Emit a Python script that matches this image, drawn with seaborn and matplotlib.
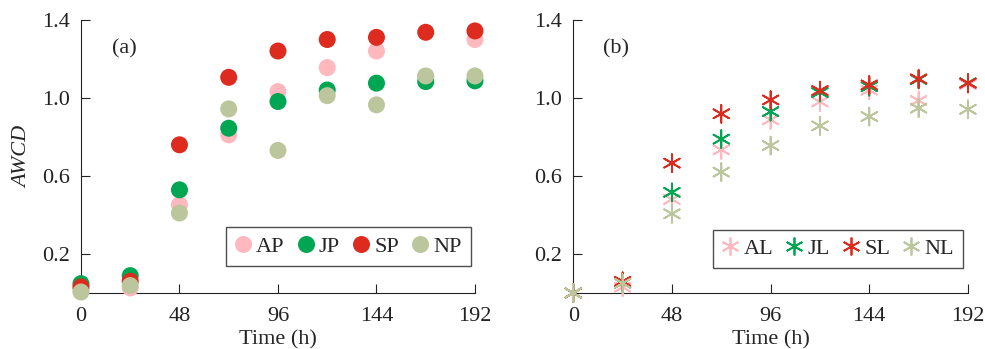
import matplotlib
matplotlib.use('Agg')
import matplotlib.pyplot as plt
import pandas as pd
import seaborn as sns

# Data
time_h = [0, 24, 48, 72, 96, 120, 144, 168, 192]

ap = [0.017, 0.026, 0.452, 0.811, 1.033, 1.156, 1.241, 1.110, 1.300]
jp = [0.048, 0.089, 0.529, 0.845, 0.982, 1.041, 1.076, 1.084, 1.088]
sp = [0.031, 0.060, 0.760, 1.106, 1.241, 1.300, 1.311, 1.337, 1.344]
np_ = [0.005, 0.038, 0.410, 0.944, 0.731, 1.012, 0.965, 1.113, 1.113]

al = [0.000, 0.030, 0.480, 0.734, 0.888, 0.980, 1.040, 0.987, 1.070]
jl = [0.000, 0.050, 0.516, 0.789, 0.930, 1.028, 1.058, 1.095, 1.078]
sl = [0.000, 0.060, 0.666, 0.919, 0.990, 1.038, 1.067, 1.098, 1.076]
nl = [0.000, 0.050, 0.406, 0.620, 0.756, 0.857, 0.905, 0.948, 0.942]

groups_p = ['AP', 'JP', 'SP', 'NP']
groups_l = ['AL', 'JL', 'SL', 'NL']
colors = ['#FFB8BE', '#00A651', '#DE2B1F', '#BCC69C']


def long_df(names, series):
    rows = []
    for name, vals in zip(names, series):
        for t, v in zip(time_h, vals):
            rows.append({'time': t, 'awcd': v, 'group': name})
    return pd.DataFrame(rows)


df_p = long_df(groups_p, [ap, jp, sp, np_])
df_l = long_df(groups_l, [al, jl, sl, nl])

sns.set_style('ticks')
plt.rcParams['font.family'] = 'serif'
plt.rcParams['font.serif'] = ['Liberation Serif', 'Times New Roman', 'DejaVu Serif']
plt.rcParams['font.size'] = 16

fig = plt.figure(figsize=(9.85, 3.49), dpi=100)
ax1 = fig.add_axes([0.0822, 0.1605, 0.400, 0.7822])
ax2 = fig.add_axes([0.5820, 0.1605, 0.4007, 0.7822])

sns.scatterplot(data=df_p, x='time', y='awcd', hue='group', hue_order=groups_p,
                palette=colors, s=150, marker='o', linewidth=0, ax=ax1,
                clip_on=False, zorder=3)
sns.scatterplot(data=df_l, x='time', y='awcd', hue='group', hue_order=groups_l,
                palette=colors, s=165, marker=(6, 2, 0), linewidth=1.3, ax=ax2,
                clip_on=False, zorder=3)

for ax, tag in [(ax1, '(a)'), (ax2, '(b)')]:
    ax.set_xlim(0, 192)
    ax.set_ylim(0, 1.4)
    ax.set_xticks([0, 48, 96, 144, 192])
    ax.set_yticks([0.2, 0.6, 1.0, 1.4])
    ax.set_yticklabels(['0.2', '0.6', '1.0', '1.4'])
    ax.tick_params(direction='in', length=6.5, width=0.8, labelsize=16,
                   colors='#222222', pad=8)
    ax.tick_params(axis='x', pad=10)
    for s in ['top', 'right']:
        ax.spines[s].set_visible(False)
    for s in ['left', 'bottom']:
        ax.spines[s].set_linewidth(0.8)
        ax.spines[s].set_color('#222222')
    ax.set_xlabel('Time (h)', fontsize=16, labelpad=3)
    ax.text(21, 1.25, tag, fontsize=16, ha='center', va='center')

ax1.set_ylabel('AWCD', fontsize=16, style='italic', labelpad=7)
ax2.set_ylabel('')

leg_kw = dict(ncol=4, loc='lower right', borderaxespad=0, frameon=True,
              fancybox=False, edgecolor='#222222', handletextpad=0.25,
              columnspacing=0.6, handlelength=0.7, borderpad=0.4, fontsize=16)
ax1.legend(bbox_to_anchor=(0.99, 0.1), **leg_kw)
ax2.legend(bbox_to_anchor=(0.987, 0.092), **leg_kw)
for leg in [ax1.get_legend(), ax2.get_legend()]:
    leg.get_frame().set_linewidth(1.0)

fig.savefig('out.png', dpi=100)
